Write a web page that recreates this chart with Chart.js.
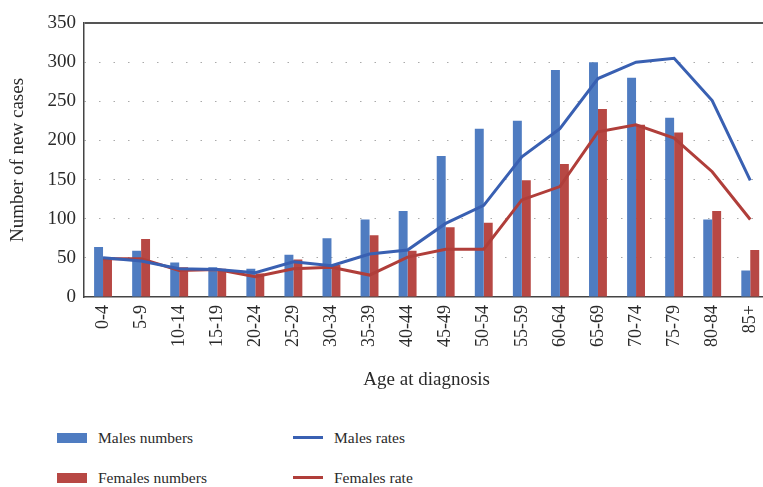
<html>

<head>
    <meta charset="utf-8">
    <title>Number of new cases by age at diagnosis</title>
    <script src="https://cdn.jsdelivr.net/npm/chart.js@4.4.1/dist/chart.umd.min.js"></script>
    <style>
        body {
            margin: 0;
            width: 763px;
            height: 487px;
            overflow: hidden;
            background: #fff;
            position: relative;
            font-family: "Liberation Serif", serif;
        }

        #wrap {
            position: absolute;
            left: 0;
            top: 0;
            width: 780px;
            height: 395px;
        }

        .item {
            position: absolute;
            height: 20px;
            line-height: 20px;
            font-size: 15.5px;
            color: #2a2a2a;
            white-space: nowrap;
        }

        .item .box {
            position: absolute;
            left: 0;
            top: 5px;
            width: 30px;
            height: 10px;
        }

        .item .line {
            position: absolute;
            left: 0;
            top: 8px;
            width: 30px;
            height: 3px;
        }

        .item span {
            position: absolute;
            left: 41px;
            top: 0;
        }
    </style>
</head>

<body>
    <div id="wrap">
        <canvas id="myChart"></canvas>
    </div>
    <div id="legend"></div>

    <script>

        var ageGroups = ['0-4', '5-9', '10-14', '15-19', '20-24', '25-29', '30-34', '35-39', '40-44',
            '45-49', '50-54', '55-59', '60-64', '65-69', '70-74', '75-79', '80-84', '85+'];
        var malesNumbers = [64, 59, 44, 38, 36, 54, 75, 99, 110, 180, 215, 225, 290, 300, 280, 229, 99, 34];
        var femalesNumbers = [50, 74, 38, 36, 30, 48, 41, 79, 59, 89, 95, 149, 170, 240, 220, 210, 110, 60];
        var malesRates = [50, 46, 36, 35, 31, 45, 40, 55, 60, 94, 117, 179, 215, 279, 300, 305, 251, 149];
        var femalesRate = [49, 49, 34, 35, 26, 36, 38, 28, 51, 61, 61, 124, 141, 211, 220, 203, 160, 99];
        var yTicks = [0, 50, 100, 150, 200, 250, 300, 350];

        var COLORS = {
            blueBar: 'rgb(79, 124, 193)',
            redBar: 'rgb(183, 72, 68)',
            blueLine: 'rgb(57, 96, 178)',
            redLine: 'rgb(176, 62, 58)'
        };

        var FONT = '"Liberation Serif", "DejaVu Serif", serif';
        var TEXT = '#2a2a2a';

        var data = {
            labels: ageGroups,
            datasets: [
                {
                    type: 'line',
                    label: 'Males rates',
                    data: malesRates,
                    borderColor: COLORS.blueLine,
                    backgroundColor: COLORS.blueLine,
                    borderWidth: 3,
                    pointRadius: 0,
                    tension: 0,
                    fill: false,
                    order: 0
                },
                {
                    type: 'line',
                    label: 'Females rate',
                    data: femalesRate,
                    borderColor: COLORS.redLine,
                    backgroundColor: COLORS.redLine,
                    borderWidth: 3,
                    pointRadius: 0,
                    tension: 0,
                    fill: false,
                    order: 1
                },
                {
                    type: 'bar',
                    label: 'Males numbers',
                    data: malesNumbers,
                    backgroundColor: COLORS.blueBar,
                    categoryPercentage: 0.47,
                    barPercentage: 1.0,
                    order: 2
                },
                {
                    type: 'bar',
                    label: 'Females numbers',
                    data: femalesNumbers,
                    backgroundColor: COLORS.redBar,
                    categoryPercentage: 0.47,
                    barPercentage: 1.0,
                    order: 3
                }
            ]
        };

        var config = {
            type: 'bar',
            data: data,
            options: {
                responsive: true,
                maintainAspectRatio: false,
                animation: false,
                layout: {
                    padding: { top: 23, right: 5, left: 0, bottom: 0 }
                },
                plugins: {
                    legend: { display: false },
                    tooltip: { enabled: false }
                },
                scales: {
                    x: {
                        grid: { display: false, drawTicks: false },
                        border: { display: true, color: '#444', width: 1.5 },
                        ticks: {
                            color: TEXT,
                            font: { family: FONT, size: 18 },
                            minRotation: 90,
                            maxRotation: 90,
                            autoSkip: false,
                            padding: 8
                        },
                        title: {
                            display: true,
                            text: 'Age at diagnosis',
                            color: TEXT,
                            font: { family: FONT, size: 19 },
                            padding: { top: 4, bottom: 4 }
                        },
                        afterFit: function (scale) {
                            scale.height = 98;
                        }
                    },
                    y: {
                        min: 0,
                        max: 350,
                        afterBuildTicks: function (scale) {
                            scale.ticks = yTicks.map(function (v) { return { value: v }; });
                        },
                        grid: {
                            drawTicks: false,
                            color: function (ctx) {
                                if (ctx.tick.value === 0) return 'rgba(0,0,0,0)';
                                if (ctx.tick.value === 350) return '#555';
                                return '#aaa';
                            },
                            lineWidth: function (ctx) {
                                return ctx.tick.value === 350 ? 2 : 1;
                            }
                        },
                        border: {
                            display: true,
                            color: '#444',
                            width: 1.5,
                            dash: function (ctx) {
                                return (ctx.tick && ctx.tick.value === 350) ? [] : [1.5, 13];
                            }
                        },
                        ticks: {
                            color: TEXT,
                            font: { family: FONT, size: 19 },
                            padding: 8
                        },
                        title: {
                            display: true,
                            text: 'Number of new cases',
                            color: TEXT,
                            font: { family: FONT, size: 19 },
                            padding: { top: 7, bottom: 4 }
                        },
                        afterFit: function (scale) {
                            scale.width = 84;
                        }
                    }
                }
            }
        };

        var myChart = new Chart(document.getElementById('myChart'), config);

        // legend in two columns like the original figure
        var legendPos = {
            'Males numbers': [57, 428],
            'Females numbers': [57, 468],
            'Males rates': [293, 428],
            'Females rate': [293, 468]
        };
        var legendHtml = '';
        for (let ds of myChart.data.datasets) {
            let p = legendPos[ds.label];
            let mark = ds.type === 'line'
                ? `<div class="line" style="background:${ds.borderColor}"></div>`
                : `<div class="box" style="background:${ds.backgroundColor}"></div>`;
            legendHtml += `<div class="item" style="left:${p[0]}px;top:${p[1]}px">${mark}<span>${ds.label}</span></div>`;
        }
        document.getElementById('legend').innerHTML = legendHtml;

    </script>
</body>

</html>
